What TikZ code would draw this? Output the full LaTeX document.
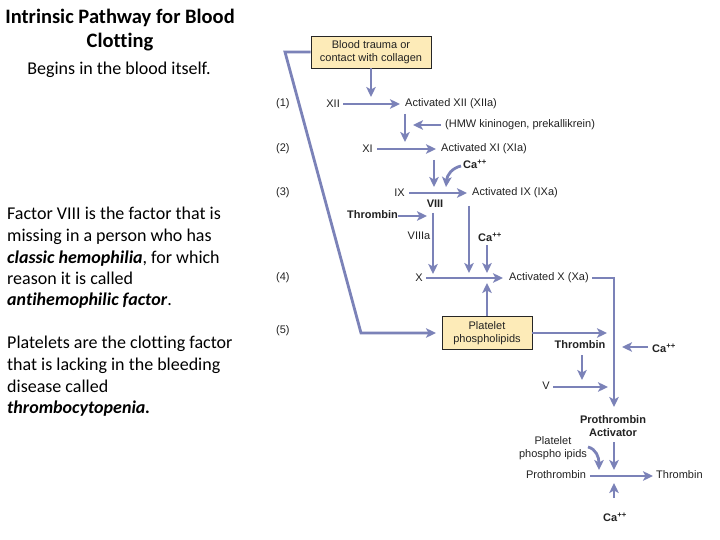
\documentclass[tikz,border=0pt]{standalone}
\usepackage{fontspec}
\setmainfont{Liberation Sans}
\newfontfamily\calfont[Ligatures=NoCommon]{Carlito}
\usetikzlibrary{arrows.meta}
\definecolor{arr}{HTML}{7B82B8}
\definecolor{boxfill}{HTML}{FDEBB8}
\definecolor{txt}{HTML}{222222}
\begin{document}
\begin{tikzpicture}[x=1pt,y=-1pt,
 lbl/.style={font=\fontsize{11}{12}\selectfont, text=txt, inner sep=0pt},
 blbl/.style={font=\fontsize{11}{12}\selectfont\bfseries, text=txt, inner sep=0pt},
 arw/.style={draw=arr, line width=2.8pt, -{Stealth[length=10pt,width=9.5pt,inset=2.5pt]}},
 ybox/.style={draw=black!85, fill=boxfill, line width=0.8pt, align=center,
   font=\fontsize{11}{13}\selectfont, text=txt, inner sep=0pt},
 side/.style={font=\calfont\fontsize{18}{21}\selectfont, inner sep=0pt, anchor=base west},
 ttl/.style={font=\calfont\bfseries\fontsize{20.5}{24}\selectfont, inner sep=0pt, anchor=base},
 ]
\useasboundingbox[fill=white] (0,0) rectangle (720,540);

% left text
\node[ttl] (t1) at (120,24) {Intrinsic Pathway for Blood};
\node[ttl] (t2) at (120,48) {Clotting};
\node[side, anchor=base] (t3) at (119,75) {Begins in the blood itself.};
\node[side] (p1) at (7,219) {Factor VIII is the factor that is};
\node[side] (p2) at (7,241) {missing in a person who has};
\node[side] (p3) at (7,263) {\textbf{\textit{classic hemophilia}}, for which};
\node[side] (p4) at (7,284) {reason it is called};
\node[side] (p5) at (7,305) {\textbf{\textit{antihemophilic factor}}.};
\node[side] (q1) at (7,348) {Platelets are the clotting factor};
\node[side] (q2) at (7,370) {that is lacking in the bleeding};
\node[side] (q3) at (7,392) {disease called};
\node[side] (q4) at (7,413) {\textbf{\textit{thrombocytopenia.}}};

% boxes
\node[ybox, minimum width=120pt, minimum height=32pt] (b1) at (371,52) {Blood trauma or\\contact with collagen};
\node[ybox, minimum width=90pt, minimum height=33pt] (b2) at (487,333) {Platelet\\phospholipids};

% step numbers
\node[lbl, anchor=west] (n1) at (276,104) {(1)};
\node[lbl, anchor=west] (n2) at (276,149) {(2)};
\node[lbl, anchor=west] (n3) at (276,193) {(3)};
\node[lbl, anchor=west] (n4) at (276,278) {(4)};
\node[lbl, anchor=west] (n5) at (276,331) {(5)};

% row 1
\node[lbl, anchor=east] (xii) at (340,104) {XII};
\node[lbl, anchor=west] (xiia) at (405,104) {Activated XII (XIIa)};
\coordinate (c1) at (371,97);
\draw[arw] (b1.south) -- (c1);
\coordinate (r1a) at (343,104); \coordinate (r1b) at (400,104);
\draw[arw] (r1a) -- (r1b);
\coordinate (d1a) at (405,114); \coordinate (d1b) at (405,142);
\draw[arw] (d1a) -- (d1b);
\node[lbl, anchor=west] (hmw) at (445,125) {(HMW kininogen, prekallikrein)};
\coordinate (h0) at (441,125); \coordinate (h1) at (413,125);
\draw[arw] (h0) -- (h1);

% row 2
\node[lbl, anchor=east] (xi) at (373,149) {XI};
\node[lbl, anchor=west] (xia) at (441,149) {Activated XI (XIa)};
\coordinate (r2a) at (377,149); \coordinate (r2b) at (436,149);
\draw[arw] (r2a) -- (r2b);
\coordinate (d2a) at (434,160); \coordinate (d2b) at (434,187);
\draw[arw] (d2a) -- (d2b);
\node[blbl, anchor=west] (ca1) at (463,164) {Ca\textsuperscript{++}};
\coordinate (e1) at (461,166); \coordinate (e2) at (446,187);
\draw[arw] (e1) .. controls (452,168) and (447,175) .. (e2);

% row 3
\node[lbl, anchor=east] (ix) at (405,193) {IX};
\node[lbl, anchor=west] (ixa) at (472,193) {Activated IX (IXa)};
\coordinate (r3a) at (409,193); \coordinate (r3b) at (467,193);
\draw[arw] (r3a) -- (r3b);
\node[blbl] (viii) at (435,204) {VIII};
\node[blbl, anchor=east] (thr1) at (398,215) {Thrombin};
\coordinate (th0) at (398,216); \coordinate (th1) at (427,216);
\draw[arw] (th0) -- (th1);
\node[lbl] (viiia) at (419,236) {VIIIa};
\node[blbl] (ca2) at (490,237) {Ca\textsuperscript{++}};
\coordinate (v8a) at (433,213); \coordinate (v8b) at (433,274);
\draw[arw] (v8a) -- (v8b);
\coordinate (ixd1) at (469,206); \coordinate (ixd2) at (469,273);
\draw[arw] (ixd1) -- (ixd2);
\coordinate (cd1) at (487,245); \coordinate (cd2) at (487,273);
\draw[arw] (cd1) -- (cd2);

% row 4
\node[lbl, anchor=east] (x) at (423,278) {X};
\node[lbl, anchor=west] (xa) at (509,278) {Activated X (Xa)};
\coordinate (r4a) at (426,278); \coordinate (r4b) at (503,278);
\draw[arw] (r4a) -- (r4b);
\coordinate (xl) at (592,278); \coordinate (xr) at (614,407);
\draw[arw] (xl) -| (xr);
\coordinate (bt) at (487,283);
\draw[arw] (b2.north) -- (bt);

% left loop
\coordinate (k1) at (285,52); \coordinate (k2) at (361,333); \coordinate (k3) at (436,333);
\draw[arw] (b1.west) -- (k1) -- (k2) -- (k3);

% row 5
\coordinate (b2r) at (607,333);
\draw[arw] (b2.east |- k3) -- (b2r);
\node[blbl] (thr2) at (580,345) {Thrombin};
\node[blbl, anchor=west] (ca3) at (652,348) {Ca\textsuperscript{++}};
\coordinate (ca3s) at (648,347); \coordinate (ca3t) at (622,347);
\draw[arw] (ca3s) -- (ca3t);
\coordinate (t2s) at (582,355); \coordinate (t2d) at (582,380);
\draw[arw] (t2s) -- (t2d);
\node[lbl] (v) at (546,386) {V};
\coordinate (vs) at (553,387); \coordinate (vt) at (608,387);
\draw[arw] (vs) -- (vt);

% prothrombin activator
\node[blbl, align=center, font=\fontsize{11}{13}\selectfont\bfseries] (pa) at (613,426) {Prothrombin\\Activator};
\coordinate (pas) at (614,442); \coordinate (pad) at (614,470);
\draw[arw] (pas) -- (pad);
\node[lbl, align=center, font=\fontsize{11}{13}\selectfont] (pp) at (553,448) {Platelet\\phospho ipids};
\coordinate (pps) at (588,447); \coordinate (ppe) at (599,470);
\draw[arw] (pps) .. controls (596,449) and (599,457) .. (ppe);
\node[lbl] (pro) at (556,475) {Prothrombin};
\node[lbl, anchor=west] (thr3) at (656,475) {Thrombin};
\coordinate (pr1) at (590,476); \coordinate (pr2) at (653,476);
\draw[arw] (pr1) -- (pr2);
\node[blbl] (ca4) at (615,517) {Ca\textsuperscript{++}};
\coordinate (ca4s) at (614,498); \coordinate (ca4t) at (614,483);
\draw[arw] (ca4s) -- (ca4t);
\end{tikzpicture}
\end{document}
